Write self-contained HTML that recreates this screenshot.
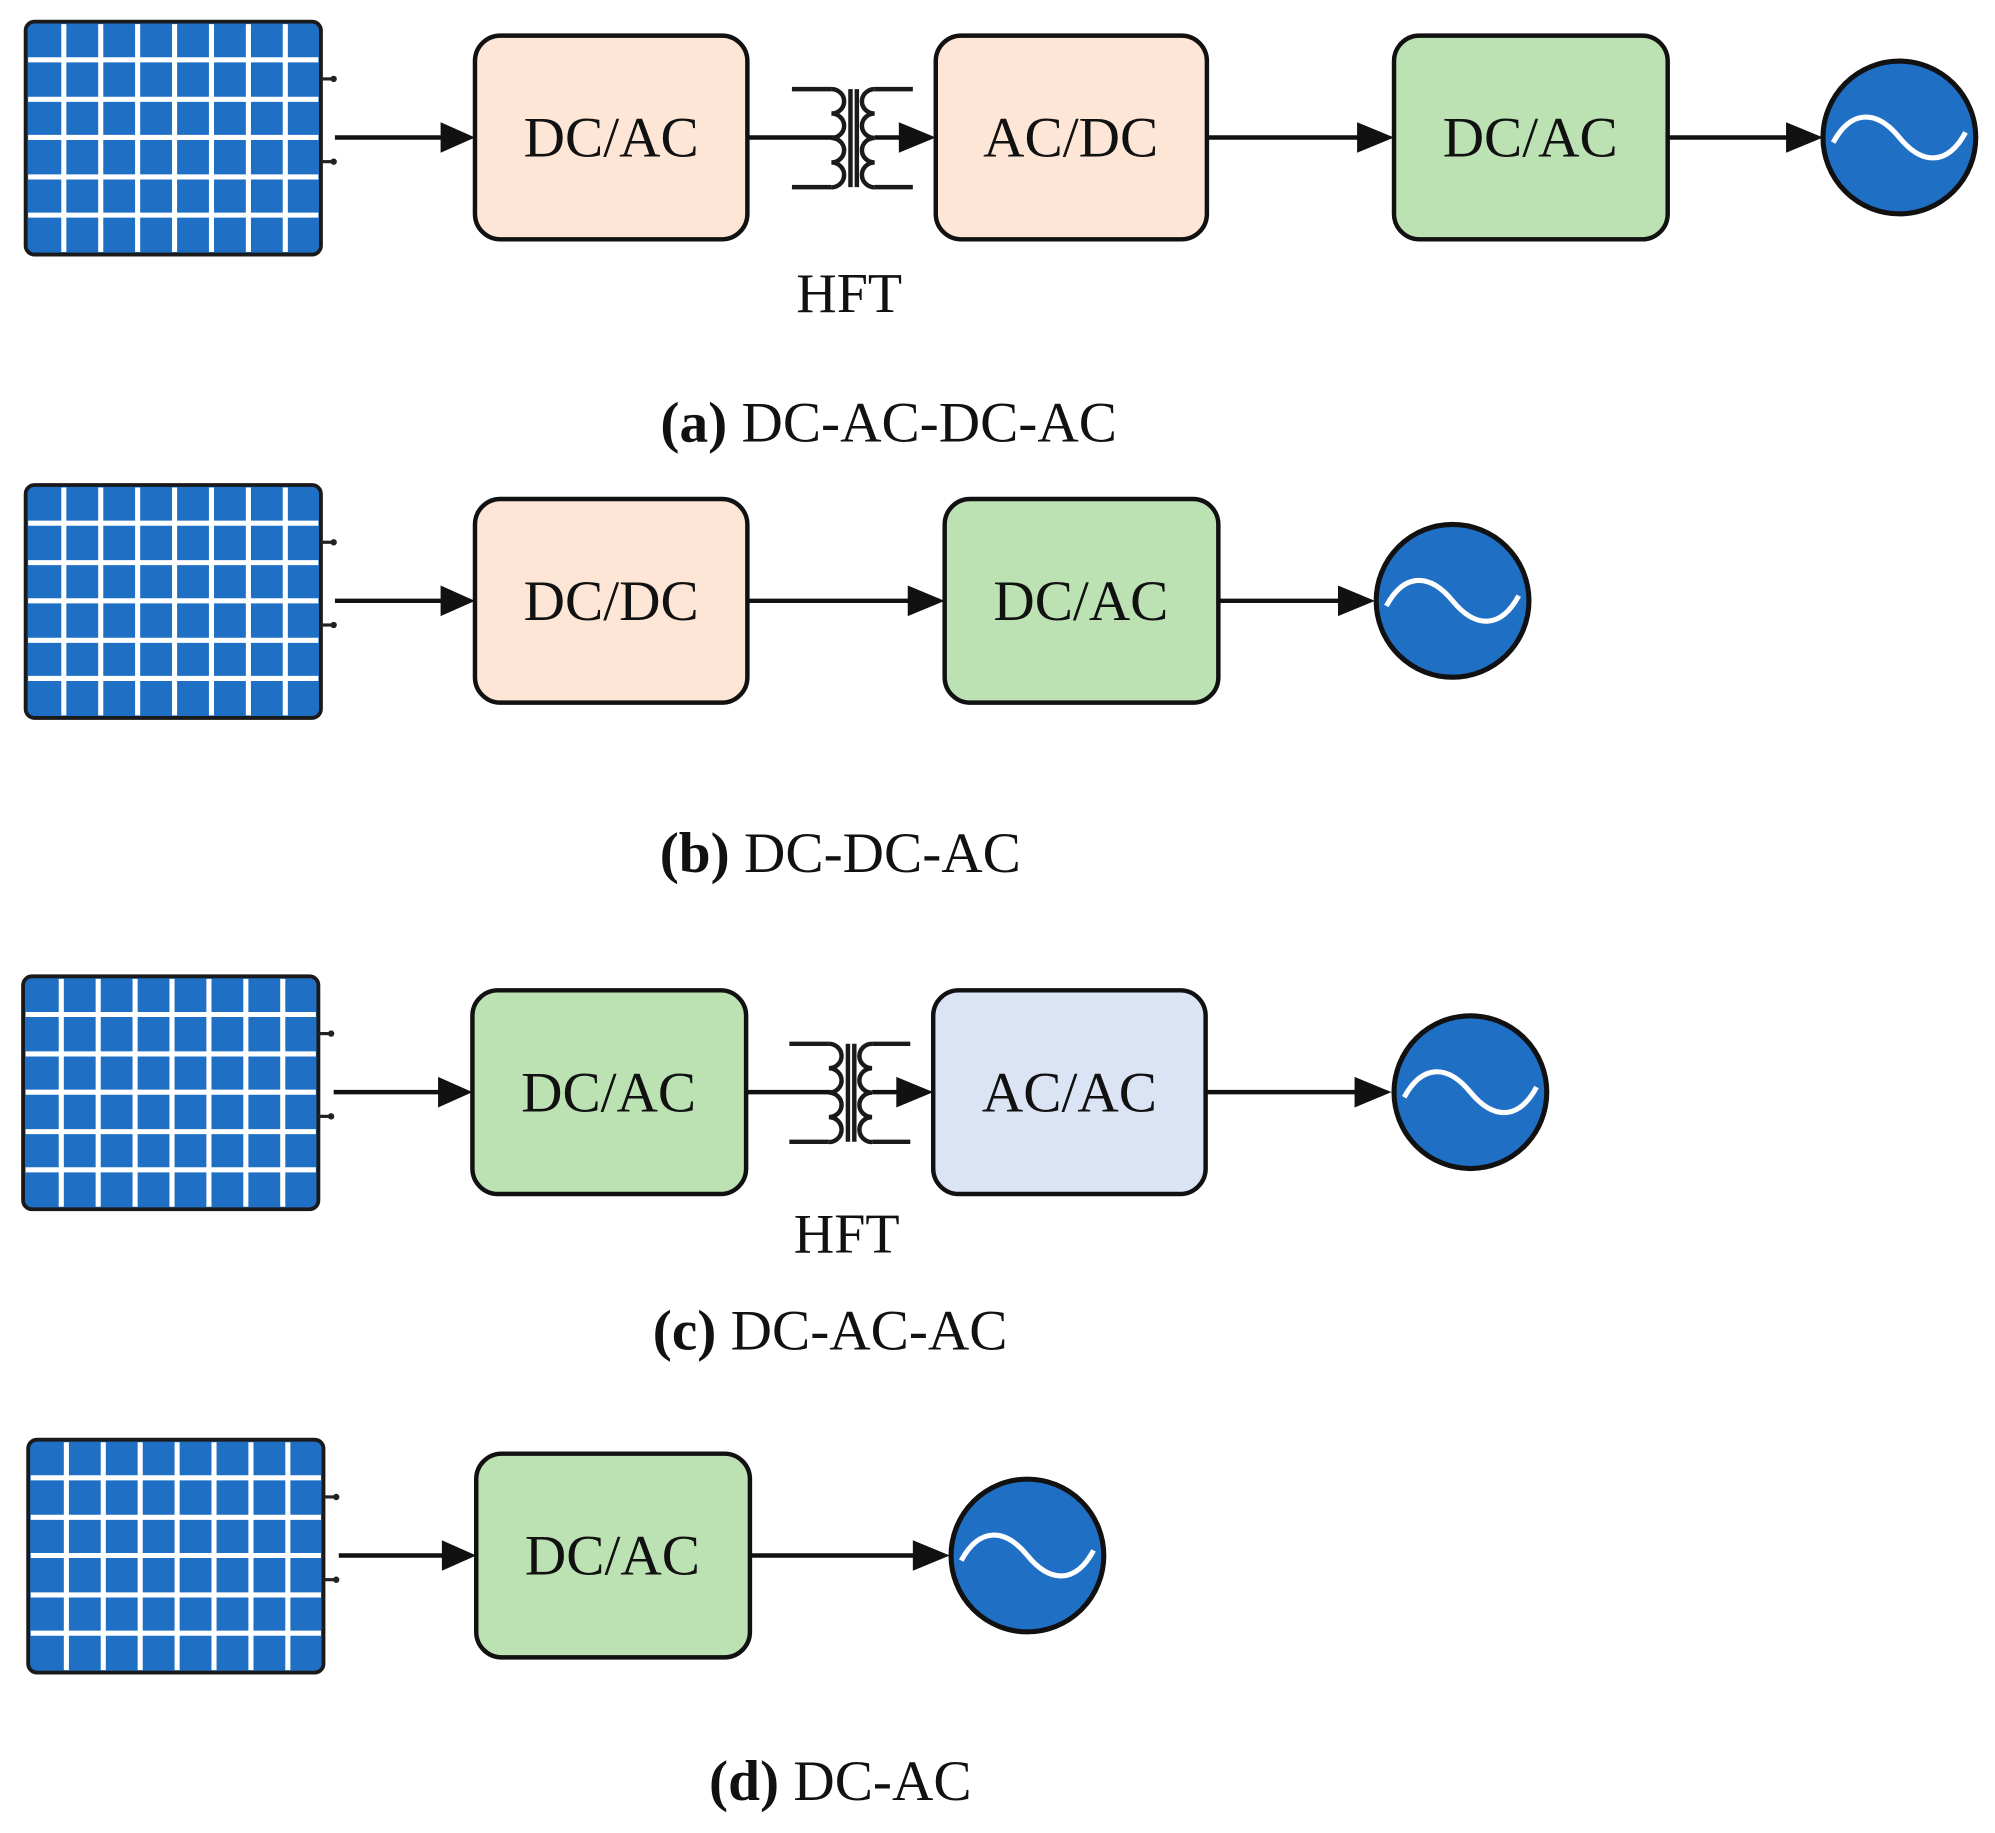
<!DOCTYPE html>
<html><head><meta charset="utf-8"><style>html,body{margin:0;padding:0;background:#fff}svg{display:block}</style></head>
<body>
<svg width="1995" height="1833" viewBox="0 0 1567 1440" xmlns="http://www.w3.org/2000/svg" font-family="Liberation Serif, serif">
<defs>
<g id="panel">
<rect x="0" y="0" width="232" height="183" rx="7" fill="#1f6fc5" stroke="#1a1a1a" stroke-width="3"/>
<g stroke="#fff" stroke-width="4">
<line x1="30" y1="2" x2="30" y2="181"/><line x1="59" y1="2" x2="59" y2="181"/><line x1="88" y1="2" x2="88" y2="181"/><line x1="117" y1="2" x2="117" y2="181"/><line x1="146" y1="2" x2="146" y2="181"/><line x1="175" y1="2" x2="175" y2="181"/><line x1="204" y1="2" x2="204" y2="181"/>
<line x1="2" y1="30" x2="230" y2="30"/><line x1="2" y1="61" x2="230" y2="61"/><line x1="2" y1="91" x2="230" y2="91"/><line x1="2" y1="122" x2="230" y2="122"/><line x1="2" y1="152" x2="230" y2="152"/>
</g>
<g stroke="#222" stroke-width="2.5"><line x1="232" y1="45" x2="242" y2="45"/><line x1="232" y1="110" x2="242" y2="110"/></g>
<circle cx="242" cy="45" r="2.5" fill="#222"/><circle cx="242" cy="110" r="2.5" fill="#222"/>
</g>
<g id="grid">
<circle cx="0" cy="0" r="60" fill="#1f6fc5" stroke="#111" stroke-width="4"/>
<path d="M-52,4 C-38,-22 -18,-22 0,0 C18,22 38,22 52,-4" fill="none" stroke="#fff" stroke-width="4"/>
</g>
<g id="hft" fill="none" stroke="#1a1a1a" stroke-width="3.5">
<path d="M-45,-38 H-14 M-45,39 H-14"/>
<path d="M-14,-38 a10,9.6 0 0 1 0,19.2 a10,9.6 0 0 1 0,19.2 a10,9.6 0 0 1 0,19.2 a10,9.8 0 0 1 0,19.6"/>
<path d="M50,-38 H20 M50,39 H20"/>
<path d="M20,-38 a10,9.6 0 0 0 0,19.2 a10,9.6 0 0 0 0,19.2 a10,9.6 0 0 0 0,19.2 a10,9.8 0 0 0 0,19.6"/>
<line x1="1" y1="-38" x2="1" y2="39"/><line x1="6" y1="-38" x2="6" y2="39"/>
</g>
</defs>

<g font-size="45" text-anchor="middle" fill="#111">
<!-- Row a -->
<use href="#panel" x="20" y="17"/>
<g stroke="#111" stroke-width="3.5" fill="none">
<line x1="263" y1="108" x2="348" y2="108"/>
<line x1="587" y1="108" x2="655" y2="108"/>
<line x1="687" y1="108" x2="708" y2="108"/>
<line x1="948" y1="108" x2="1068" y2="108"/>
<line x1="1310" y1="108" x2="1405" y2="108"/>
</g>
<g fill="#111">
<polygon points="346,96 373,108 346,120"/>
<polygon points="706,96 735,108 706,120"/>
<polygon points="1066,96 1095,108 1066,120"/>
<polygon points="1403,96 1432,108 1403,120"/>
</g>
<rect x="373" y="28" width="214" height="160" rx="20" fill="#fde6d5" stroke="#111" stroke-width="3.5"/>
<use href="#hft" x="667" y="108"/>
<rect x="735" y="28" width="213" height="160" rx="20" fill="#fde6d5" stroke="#111" stroke-width="3.5"/>
<rect x="1095" y="28" width="215" height="160" rx="20" fill="#bce2b4" stroke="#111" stroke-width="3.5"/>
<use href="#grid" x="1492" y="108"/>
<text x="480" y="123">DC/AC</text>
<text x="841" y="123">AC/DC</text>
<text x="1202" y="123">DC/AC</text>
<text x="667" y="245" font-size="44">HFT</text>
<text x="698" y="347"><tspan font-weight="bold">(a)</tspan> DC-AC-DC-AC</text>

<!-- Row b -->
<use href="#panel" x="20" y="381"/>
<g stroke="#111" stroke-width="3.5">
<line x1="263" y1="472" x2="348" y2="472"/>
<line x1="587" y1="472" x2="715" y2="472"/>
<line x1="957" y1="472" x2="1053" y2="472"/>
</g>
<g fill="#111">
<polygon points="346,460 373,472 346,484"/>
<polygon points="713,460 742,472 713,484"/>
<polygon points="1051,460 1080,472 1051,484"/>
</g>
<rect x="373" y="392" width="214" height="160" rx="20" fill="#fde6d5" stroke="#111" stroke-width="3.5"/>
<rect x="742" y="392" width="215" height="160" rx="20" fill="#bce2b4" stroke="#111" stroke-width="3.5"/>
<use href="#grid" x="1141" y="472"/>
<text x="480" y="487">DC/DC</text>
<text x="849" y="487">DC/AC</text>
<text x="660" y="685"><tspan font-weight="bold">(b)</tspan> DC-DC-AC</text>

<!-- Row c -->
<use href="#panel" x="18" y="767"/>
<g stroke="#111" stroke-width="3.5">
<line x1="262" y1="858" x2="346" y2="858"/>
<line x1="586" y1="858" x2="653" y2="858"/>
<line x1="685" y1="858" x2="706" y2="858"/>
<line x1="947" y1="858" x2="1066" y2="858"/>
</g>
<g fill="#111">
<polygon points="344,846 371,858 344,870"/>
<polygon points="704,846 733,858 704,870"/>
<polygon points="1064,846 1093,858 1064,870"/>
</g>
<rect x="371" y="778" width="215" height="160" rx="20" fill="#bce2b4" stroke="#111" stroke-width="3.5"/>
<use href="#hft" x="665" y="858"/>
<rect x="733" y="778" width="214" height="160" rx="20" fill="#dbe4f4" stroke="#111" stroke-width="3.5"/>
<use href="#grid" x="1155" y="858"/>
<text x="478" y="873">DC/AC</text>
<text x="840" y="873">AC/AC</text>
<text x="665" y="984" font-size="44">HFT</text>
<text x="652" y="1060"><tspan font-weight="bold">(c)</tspan> DC-AC-AC</text>

<!-- Row d -->
<use href="#panel" x="22" y="1131"/>
<g stroke="#111" stroke-width="3.5">
<line x1="266" y1="1222" x2="349" y2="1222"/>
<line x1="589" y1="1222" x2="719" y2="1222"/>
</g>
<g fill="#111">
<polygon points="347,1210 374,1222 347,1234"/>
<polygon points="717,1210 746,1222 717,1234"/>
</g>
<rect x="374" y="1142" width="215" height="160" rx="20" fill="#bce2b4" stroke="#111" stroke-width="3.5"/>
<use href="#grid" x="807" y="1222"/>
<text x="481" y="1237">DC/AC</text>
<text x="660" y="1414"><tspan font-weight="bold">(d)</tspan> DC-AC</text>
</g>
</svg>
</body></html>
